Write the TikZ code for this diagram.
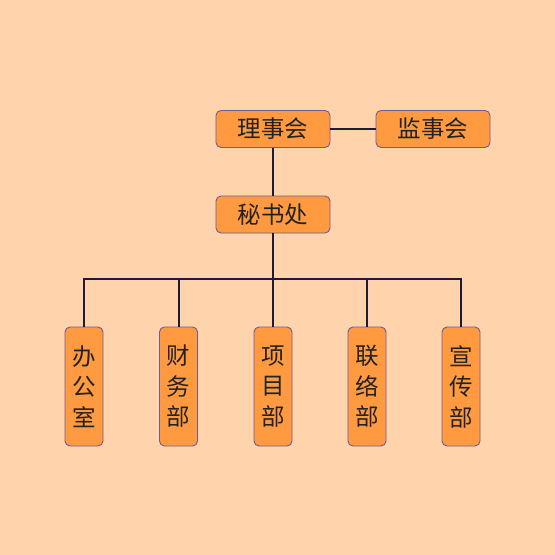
\documentclass[tikz,border=0pt]{standalone}
\usepackage{fontspec}
\setmainfont{Noto Sans CJK SC}
\begin{document}
\begin{tikzpicture}[
        x=1pt, y=-1pt,
        box/.style={rectangle, rounded corners=5pt, draw=bordercol, line width=0.9pt, fill=boxcol, text=textcol, font=\fontsize{23.5}{30.5}\selectfont, minimum width=114pt, minimum height=37pt, inner sep=0pt},
        tall/.style={box, minimum width=38pt, minimum height=119pt, align=center},
        link/.style={draw=linecol, line width=2pt}
    ]
    \definecolor{bgcol}{HTML}{FFD3AB}
    \definecolor{boxcol}{HTML}{FF9A40}
    \definecolor{bordercol}{HTML}{6E5C94}
    \definecolor{linecol}{HTML}{1E1A3A}
    \definecolor{textcol}{HTML}{222222}

    \fill[bgcol] (0,0) rectangle (555,555);
    \useasboundingbox (0,0) rectangle (555,555);

    % Top level
    \node[box] (board) at (273,129) {理事会};
    \node[box] (super) at (433,129) {监事会};
    \node[box] (sec) at (273,214.5) {秘书处};

    % Departments
    \node[tall] (office) at (84,386.5) {办\\公\\室};
    \node[tall] (finance) at (178.5,386.5) {财\\务\\部};
    \node[tall] (proj) at (273,386.5) {项\\目\\部};
    \node[tall] (liaison) at (367,386.5) {联\\络\\部};
    \node[tall] (publ) at (461,386.5) {宣\\传\\部};

    \coordinate (bus) at (273,279);

    % Connections
    \draw[link] (board.east) -- (super.west);
    \draw[link] (board.south) -- (sec.north);
    \draw[link] (sec.south) -- (proj.north);
    \draw[link] (office.north) |- (bus) -| (publ.north);
    \draw[link] (finance.north) |- (bus);
    \draw[link] (liaison.north) |- (bus);

\end{tikzpicture}
\end{document}
